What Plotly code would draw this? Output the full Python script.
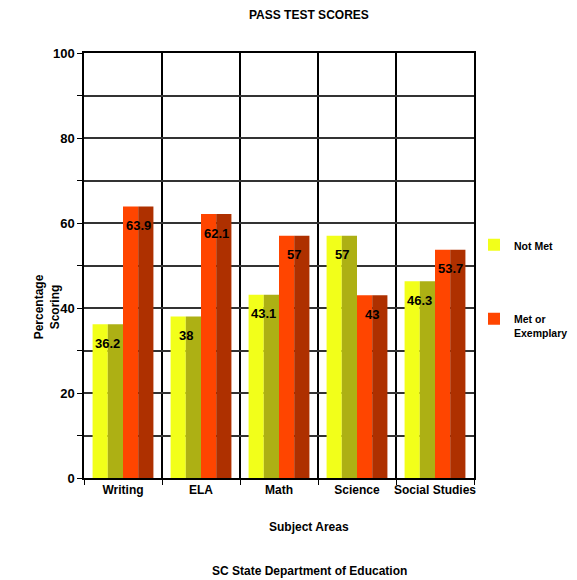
import plotly.graph_objects as go

categories = ["Writing", "ELA", "Math", "Science", "Social Studies"]
not_met = [36.2, 38, 43.1, 57, 46.3]
met_or_exemplary = [63.9, 62.1, 57, 43, 53.7]
y_tick_vals = [0, 10, 20, 30, 40, 50, 60, 70, 80, 90, 100]
y_tick_text = ["0", "", "20", "", "40", "", "60", "", "80", "", "100"]

FONT = "Liberation Sans, Arial, sans-serif"
BOLD = dict(family=FONT, size=12, color="black", weight="bold")
BOLD_L = dict(family=FONT, size=13, color="black", weight="bold")
BOLD_S = dict(family=FONT, size=10.5, color="black", weight="bold")

YEL_L, YEL_D = "#F2FF1A", "#ADB014"
RED_L, RED_D = "#FF4500", "#AE3000"
HALF = 0.195

fig = go.Figure()
series = [
    ("Not Met", not_met, YEL_L, YEL_D, -2 * HALF, "g1"),
    ("Met or<br>Exemplary", met_or_exemplary, RED_L, RED_D, 0.0, "g2"),
]
for name, vals, cl, cd, off, grp in series:
    fig.add_trace(go.Bar(x=categories, y=vals, name=name, marker=dict(color=cl, line=dict(width=0)),
                         offset=off, width=HALF, legendgroup=grp, showlegend=True, hoverinfo="skip"))
    fig.add_trace(go.Bar(x=categories, y=vals, name=name, marker=dict(color=cd, line=dict(width=0)),
                         offset=off + HALF, width=HALF, legendgroup=grp, showlegend=False, hoverinfo="skip"))

annotations = []
for vals, off in ((not_met, -HALF), (met_or_exemplary, HALF)):
    for i, v in enumerate(vals):
        annotations.append(dict(x=i + off, y=v, xref="x", yref="y", text=f"{v:g}", showarrow=False,
                                yshift=-19, font=BOLD_L))

annotations += [
    dict(x=0.577, y=1.0, xref="paper", yref="paper", yanchor="middle", yshift=38,
         text="PASS TEST SCORES", showarrow=False, font=BOLD),
    dict(x=0.577, y=0, xref="paper", yref="paper", yanchor="middle", yshift=-49,
         text="Subject Areas", showarrow=False, font=BOLD),
    dict(x=0.577, y=0, xref="paper", yref="paper", yanchor="middle", yshift=-93,
         text="SC State Department of Education", showarrow=False, font=BOLD),
    dict(x=-0.138, y=0.402, xref="paper", yref="paper", textangle=-90,
         text="Percentage<br>Scoring", showarrow=False, font=BOLD),
]

fig.update_layout(
    width=569, height=572,
    margin=dict(l=76, r=103, t=45, b=102, autoexpand=False),
    paper_bgcolor="white", plot_bgcolor="white",
    barmode="overlay",
    showlegend=True,
    legend=dict(x=1.0, y=0.58, xanchor="left", yanchor="top", font=BOLD_S, tracegroupgap=55,
                valign="top", bgcolor="rgba(0,0,0,0)", itemwidth=30),
    annotations=annotations,
    xaxis=dict(type="category", range=[-0.5, 4.5], tickson="boundaries", ticks="outside", ticklen=5,
               tickcolor="black", showgrid=True, gridcolor="black", gridwidth=1.5,
               showline=True, linecolor="black", linewidth=1.5, mirror=True,
               tickfont=BOLD, tickangle=0, automargin=False),
    yaxis=dict(range=[0, 100], tickvals=y_tick_vals, ticktext=y_tick_text, ticks="outside", ticklen=5,
               tickcolor="black", showgrid=True, gridcolor="#333", gridwidth=1.5,
               showline=True, linecolor="black", linewidth=1.5, mirror=True,
               tickfont=BOLD_L, zeroline=False, automargin=False),
)

fig.write_html("out.html")
